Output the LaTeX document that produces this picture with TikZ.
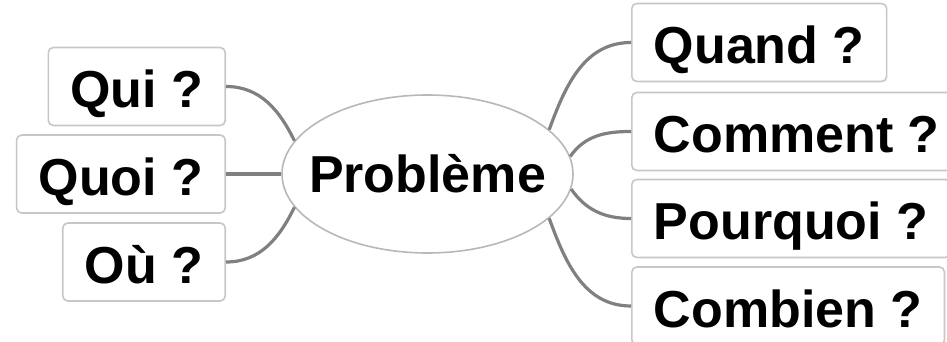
\documentclass[tikz,border=0pt]{standalone}
\usepackage{fontspec}
\setmainfont{Liberation Sans}
\usetikzlibrary{shapes.geometric}

\tikzset{
  question/.style={draw=black!22, line width=1.6pt, rounded corners=5pt, fill=white,
    inner xsep=22pt, minimum height=78pt, text height=43pt, text depth=0pt,
    font=\fontsize{52}{60}\selectfont\bfseries},
  centre/.style={draw=black!28, line width=1.6pt, fill=white, ellipse,
    minimum width=291pt, minimum height=158pt, inner sep=0pt, text height=38pt, text depth=0pt,
    font=\fontsize{52}{60}\selectfont\bfseries},
  branch/.style={draw=black!50, line width=3.2pt}
}

\begin{document}
\begin{tikzpicture}[x=1pt,y=1pt]
\useasboundingbox (0,0) rectangle (947,342);
% central topic
\node[centre] (prob) at (427.5,168) {\makebox[0pt]{Problème}};
% left questions
\node[question,anchor=east] (qui) at (226,255.5) {Qui ?};
\node[question,anchor=east] (quoi) at (226,168) {Quoi ?};
\node[question,anchor=east] (ou) at (226,80) {Où ?};
% right questions
\node[question,anchor=west] (quand) at (631,299.5) {Quand ?};
\node[question,anchor=west] (comment) at (631,210.5) {Comment ?};
\node[question,anchor=west] (pourquoi) at (631,123.5) {Pourquoi ?};
\node[question,anchor=west] (combien) at (631,36) {Combien ?};
% branches
\draw[branch] (qui.east) to[out=0,in=116] (prob.166);
\draw[branch] (quoi.east) -- (prob.west);
\draw[branch] (ou.east) to[out=0,in=-116] (prob.194);
\draw[branch] (prob.20) to[out=70,in=180] (quand.west);
\draw[branch] (prob.7) to[out=55,in=180] (comment.west);
\draw[branch] (prob.-6) to[out=-55,in=180] (pourquoi.west);
\draw[branch] (prob.-20) to[out=-70,in=180] (combien.west);
\end{tikzpicture}
\end{document}
